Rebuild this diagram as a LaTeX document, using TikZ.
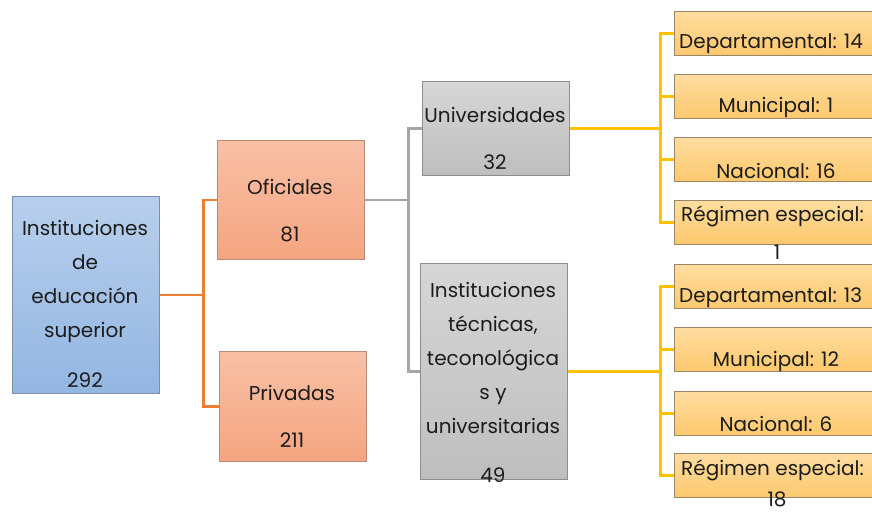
\documentclass[tikz,border=0pt]{standalone}
\usepackage{fontspec}
\setmainfont{Poppins}
\usetikzlibrary{positioning}

\definecolor{azulA}{HTML}{B7CFEC}
\definecolor{azulB}{HTML}{93B6E2}
\definecolor{azulBorde}{HTML}{7D8FA6}
\definecolor{naranjaA}{HTML}{F9C0A6}
\definecolor{naranjaB}{HTML}{F4A580}
\definecolor{naranjaBorde}{HTML}{B98A78}
\definecolor{grisA}{HTML}{D6D6D6}
\definecolor{grisB}{HTML}{BEBEBE}
\definecolor{grisBorde}{HTML}{8E8E8E}
\definecolor{amarilloA}{HTML}{FFDDA0}
\definecolor{amarilloB}{HTML}{FCC86C}
\definecolor{amarilloBorde}{HTML}{9A8768}
\definecolor{lineaNaranja}{HTML}{ED7D31}
\definecolor{lineaGris}{HTML}{A5A5A5}
\definecolor{lineaAmarilla}{HTML}{FFC000}
\definecolor{texto}{HTML}{1C1C1C}

\tikzset{
    caja/.style={rectangle, line width=1.3pt, inner sep=0pt, anchor=north west},
    raiz/.style={caja, top color=azulA, bottom color=azulB, draw=azulBorde},
    tipo/.style={caja, top color=naranjaA, bottom color=naranjaB, draw=naranjaBorde},
    clase/.style={caja, top color=grisA, bottom color=grisB, draw=grisBorde},
    hoja/.style={caja, top color=amarilloA, bottom color=amarilloB, draw=amarilloBorde,
        minimum width=206pt, minimum height=44pt},
    txt/.style={text=texto, font=\fontsize{20}{34}\selectfont, align=center, inner sep=0pt},
    enlace/.style={line width=2.5pt},
    }

\begin{document}
\begin{tikzpicture}[x=1pt, y=-1pt]
                \useasboundingbox (0,0) rectangle (872,514);
                \clip (0,0) rectangle (872,514);
                % Cajas principales
                \node(inst)[raiz, minimum width=147pt, minimum height=197pt] at (12,196) {};
                \node(ofic)[tipo, minimum width=147pt, minimum height=119pt] at (217,140) {};
                \node(priv)[tipo, minimum width=147pt, minimum height=110pt] at (219,351) {};
                \node(univ)[clase, minimum width=147pt, minimum height=94pt] at (422,81) {};
                \node(tecn)[clase, minimum width=147pt, minimum height=216pt] at (420,263) {};
                % Hojas
                \node(ud)[hoja] at (674,11) {};
                \node(um)[hoja] at (674,74) {};
                \node(un)[hoja] at (674,137) {};
                \node(ur)[hoja] at (674,200) {};
                \node(td)[hoja] at (674,264) {};
                \node(tm)[hoja] at (674,327) {};
                \node(tn)[hoja] at (674,391) {};
                \node(tr)[hoja] at (674,453) {};

                % Textos
                \node(instT)[txt] at (85,281) {Instituciones\\de\\educación\\superior};
                \node(instN)[txt] at (85,380) {292};
                \node(oficT)[txt] at (290,187) {Oficiales};
                \node(oficN)[txt] at (290,234) {81};
                \node(privT)[txt] at (292,393) {Privadas};
                \node(privN)[txt] at (292,440) {211};
                \node(univT)[txt] at (495,115) {Universidades};
                \node(univN)[txt] at (495,162) {32};
                \node(tecnT)[txt] at (493,358) {Instituciones\\técnicas,\\teconológica\\s y\\universitarias};
                \node(tecnN)[txt] at (493,475) {49};
                \node(udT)[txt, anchor=west] at (679,44) {Departamental: 14};
                \node(umT)[txt] at (776,107) {Municipal: 1};
                \node(unT)[txt] at (776,171) {Nacional: 16};
                \node(urT)[txt, anchor=west] at (681,216) {Régimen especial:};
                \node(urN)[txt] at (777,252) {1};
                \node(tdT)[txt, anchor=west] at (679,298) {Departamental: 13};
                \node(tmT)[txt] at (776,361) {Municipal: 12};
                \node(tnT)[txt] at (776,424) {Nacional: 6};
                \node(trT)[txt, anchor=west] at (681,470) {Régimen especial:};
                \node(trN)[txt] at (777,499) {18};

                % Conectores
                \draw[enlace, lineaNaranja] (inst.east) -- ++(43,0) |- (ofic.west);
                \draw[enlace, lineaNaranja] (inst.east) -- ++(43,0) |- (priv.west);
                \draw[enlace, lineaGris] (ofic.east) -- ++(43,0) |- (univ.west);
                \draw[enlace, lineaGris] (ofic.east) -- ++(43,0) |- (tecn.west);
                \foreach \h in {ud,um,un,ur}
                    \draw[enlace, lineaAmarilla] (univ.east) -- ++(90,0) |- (\h.west);
                \foreach \h in {td,tm,tn,tr}
                    \draw[enlace, lineaAmarilla] (tecn.east) -- ++(92,0) |- (\h.west);
            \end{tikzpicture}
\end{document}
